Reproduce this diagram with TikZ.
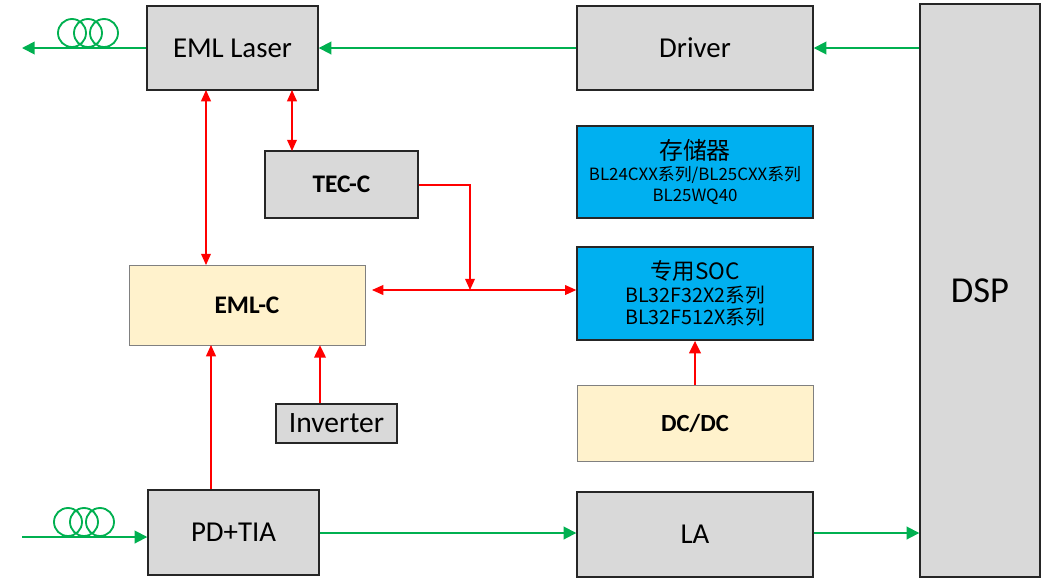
\documentclass[tikz,border=0pt]{standalone}
\usepackage{fontspec}
\setmainfont{Carlito}
\newfontfamily\cjk{Noto Sans CJK SC}
\usetikzlibrary{arrows.meta}
\begin{document}
\begin{tikzpicture}[x=0.025cm,y=-0.025cm,
  gbox/.style={draw=black!85,line width=1pt,fill=black!15,inner sep=0},
  bbox/.style={draw=black!85,line width=1pt,fill={rgb,255:red,0;green,176;blue,240},inner sep=0,align=center,font=\cjk\fontsize{12}{15}\selectfont},
  gr/.style={draw={rgb,255:red,0;green,176;blue,80},line width=1.3pt,-{Triangle[length=9pt,width=9pt]}},
  rd/.style={draw=red,line width=0.8pt,-{Triangle[length=8pt,width=7pt]}},
  rdd/.style={rd,{Triangle[length=8pt,width=7pt]}-{Triangle[length=8pt,width=7pt]}},
  coil/.style={draw={rgb,255:red,0;green,176;blue,80},line width=1.3pt}]
\useasboundingbox (0,0) rectangle (1045,581);
\definecolor{ylw}{RGB}{255,242,204}
\node[gbox,minimum width=171*0.025cm,minimum height=84*0.025cm,font=\fontsize{20.5}{22}\selectfont] (eml) at (232.5,48) {EML Laser};
\node[gbox,minimum width=236*0.025cm,minimum height=84*0.025cm,font=\fontsize{20.5}{22}\selectfont] (drv) at (695,48) {Driver};
\node[gbox,minimum width=120*0.025cm,minimum height=573*0.025cm,font=\fontsize{26}{28}\selectfont] (dsp) at (980,290.5) {DSP};
\node[gbox,minimum width=153*0.025cm,minimum height=67*0.025cm,font=\bfseries\fontsize{18}{20}\selectfont] (tec) at (341.5,184.5) {TEC-C};
\node[bbox,minimum width=236*0.025cm,minimum height=92*0.025cm] (mem) at (695,172) {{\fontsize{17}{19}\selectfont 存储器}\\BL24CXX系列/BL25CXX系列\\BL25WQ40};
\node[bbox,minimum width=236*0.025cm,minimum height=93*0.025cm] (soc) at (695,293.5) {{\fontsize{16}{19}\selectfont 专用SOC}\\[1pt]{\fontsize{14}{16}\selectfont BL32F32X2系列}\\[1pt]{\fontsize{14}{16}\selectfont BL32F512X系列}};
\node[draw=black!50,line width=0.6pt,fill=ylw,inner sep=0,minimum width=236*0.025cm,minimum height=80*0.025cm,font=\bfseries\fontsize{18}{20}\selectfont] (emlc) at (247,305) {EML-C};
\node[draw=black!85,line width=1pt,fill=black!15,inner sep=0,minimum width=121*0.025cm,minimum height=39*0.025cm,font=\fontsize{21}{22}\selectfont] (inv) at (336.5,423.5) {Inverter};
\node[draw=black!50,line width=0.6pt,fill=ylw,inner sep=0,minimum width=236*0.025cm,minimum height=76*0.025cm,font=\bfseries\fontsize{17.5}{19}\selectfont] (dcdc) at (695,423) {DC/DC};
\node[gbox,minimum width=171*0.025cm,minimum height=85*0.025cm,font=\fontsize{20.5}{22}\selectfont] (pd) at (233.5,532.5) {PD+TIA};
\node[gbox,minimum width=236*0.025cm,minimum height=85*0.025cm,font=\fontsize{20.5}{22}\selectfont] (la) at (695,534.5) {LA};
\coordinate (outL) at (22,48);
\coordinate (inL) at (22,537);
\coordinate (tj) at (470,185);
% green
\draw[gr] (eml.west|-0,48) -- (outL);
\foreach \c in {72,88,104} \draw[coil] (\c,33) circle (14);
\draw[gr] (inL) -- (pd.west|-0,537);
\foreach \c in {68,84,100} \draw[coil] (\c,522) circle (14);
\draw[gr] (drv.west|-0,48) -- (eml.east|-0,48);
\draw[gr] (dsp.west|-0,48) -- (drv.east|-0,48);
\draw[gr] (pd.east|-0,533) -- (la.west|-0,533);
\draw[gr] (la.east|-0,533) -- (dsp.west|-0,533);
% red
\draw[rdd] (206,90) -- (206,265);
\draw[rdd] (292,90) -- (292,151);
\draw[rd] (tec.east|-tj) -- (tj) -- (470,290);
\draw[rdd] (372,290) -- (soc.west|-0,290);
\draw[rd,line width=2pt,-{Triangle[length=9pt,width=8pt]}] (inv.north-|320,0) -- (320,345);
\draw[rd] (pd.north-|211,0) -- (211,345);
\draw[rd,line width=2pt,-{Triangle[length=9pt,width=8pt]}] (dcdc.north) -- (soc.south);
\end{tikzpicture}
\end{document}
